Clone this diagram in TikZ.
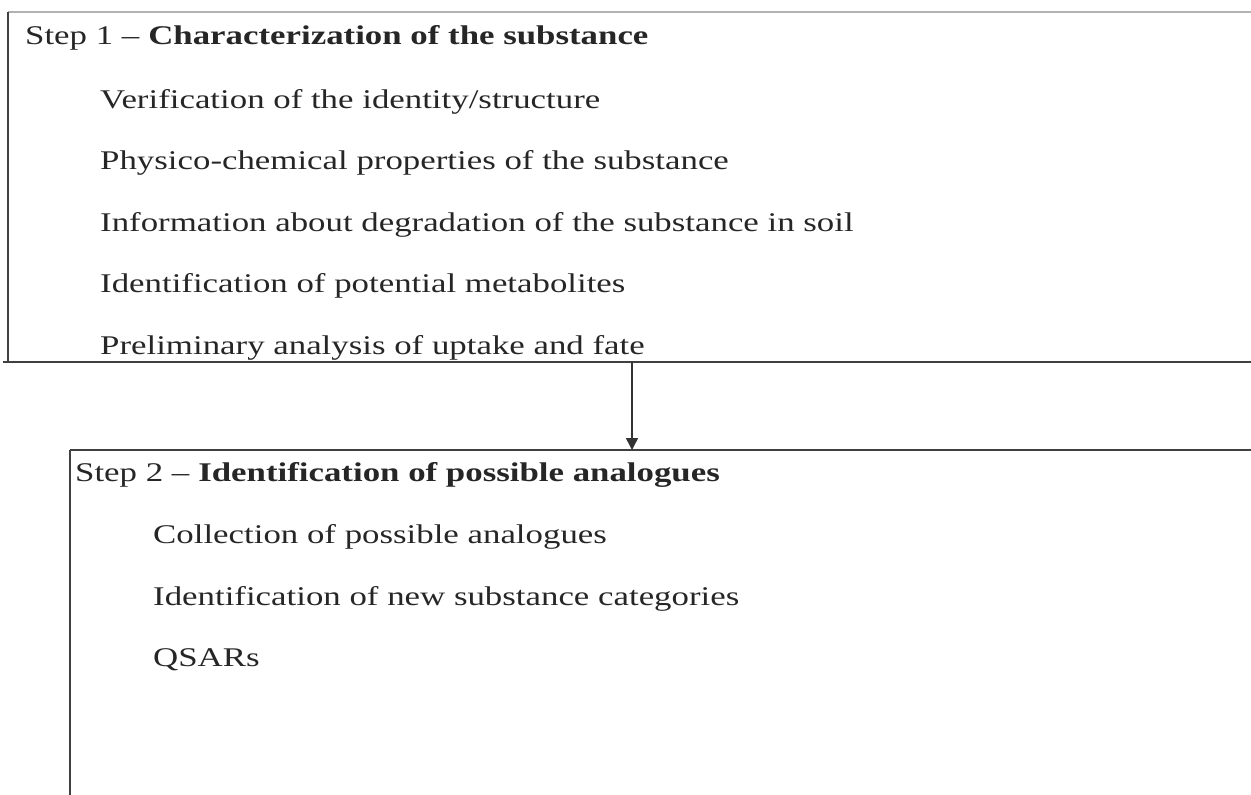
\documentclass[tikz,border=0pt]{standalone}
\usepackage{fontspec}
\setmainfont{Liberation Serif}
\usetikzlibrary{arrows.meta}
\newcommand{\widetxt}[1]{\scalebox{1.29}[1]{#1}}
\begin{document}
\begin{tikzpicture}[x=1pt,y=-1pt,
  txt/.style={anchor=base west,inner sep=0pt,font=\fontsize{27}{32}\selectfont,text=black!85},
  frame/.style={draw=black!75,line width=1.8pt},
  lightframe/.style={draw=black!30,line width=2.4pt}]
\useasboundingbox (0,0) rectangle (1251,795);
% Step 1 box
\draw[lightframe] (8,12) -- (1251,12);
\draw[frame] (8,12) -- (8,362);
\draw[frame] (3,362) -- (1251,362);
\node[txt] (h1) at (25,44) {\widetxt{Step 1 -- \textbf{Characterization of the substance}}};
\node[txt] (a1) at (100,108) {\widetxt{Verification of the identity/structure}};
\node[txt] (a2) at (100,169) {\widetxt{Physico-chemical properties of the substance}};
\node[txt] (a3) at (100,231) {\widetxt{Information about degradation of the substance in soil}};
\node[txt] (a4) at (100,292) {\widetxt{Identification of potential metabolites}};
\node[txt] (a5) at (100,354) {\widetxt{Preliminary analysis of uptake and fate}};
% Step 2 box
\coordinate (s1) at (632,362);
\coordinate (s2) at (632,450);
\draw[frame] (70,450) -- (1251,450);
\draw[frame] (70,450) -- (70,795);
\node[txt] (h2) at (75,481) {\widetxt{Step 2 -- \textbf{Identification of possible analogues}}};
\node[txt] (b1) at (153,543) {\widetxt{Collection of possible analogues}};
\node[txt] (b2) at (153,605) {\widetxt{Identification of new substance categories}};
\node[txt] (b3) at (153,666) {\widetxt{QSARs}};
\draw[black!80,line width=1.5pt,-{Triangle[length=12pt,width=12pt]}] (s1) -- (s2);
\end{tikzpicture}
\end{document}
